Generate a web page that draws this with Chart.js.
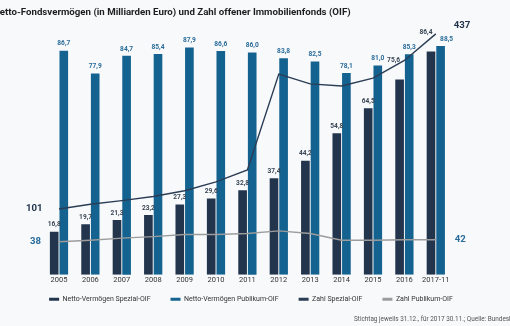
<!DOCTYPE html>
<html>
<head>
<meta charset="utf-8">
<script src="https://cdn.jsdelivr.net/npm/chart.js@4"></script>
<style>
  html, body { margin: 0; padding: 0; background: #f7f9fb; }
  #wrap { position: relative; width: 510px; height: 326px; overflow: hidden; }
  #title { position: absolute; left: -7px; top: 6px; white-space: nowrap;
    font: bold 9.7px Roboto, sans-serif; color: #1e1e1e; }
  #source { position: absolute; left: 354px; top: 315px; white-space: nowrap;
    font: 6.4px Roboto, sans-serif; color: #555; }
  canvas { position: absolute; left: 0; top: 0; }
</style>
</head>
<body>
<div id="wrap">
  <canvas id="oifChart" width="510" height="326"></canvas>
  <div id="title">Netto-Fondsvermögen (in Milliarden Euro) und Zahl offener Immobilienfonds (OIF)</div>
  <div id="source">Stichtag jeweils 31.12., für 2017 30.11.; Quelle: Bundesbank</div>
</div>
<script>
const years = ['2005', '2006', '2007', '2008', '2009', '2010', '2011', '2012', '2013', '2014', '2015', '2016', '2017-11'];
const spezialVermoegen = [16.8, 19.7, 21.3, 23.2, 27.3, 29.6, 32.8, 37.4, 44.2, 54.8, 64.5, 75.6, 86.4];
const publikumVermoegen = [86.7, 77.9, 84.7, 85.4, 87.9, 86.6, 86.0, 83.8, 82.5, 78.1, 81.0, 85.3, 88.5];
const spezialAnzahl = [101, 110, 117, 125, 136, 153, 176, 360, 341, 337, 352, 386, 437];
const publikumAnzahl = [38, 41, 45, 48, 52, 52, 54, 59, 54, 41, 41, 42, 42];

const dark = '#22354d';
const blue = '#14628f';
const grey = '#9c9c9c';

const fmt = (v) => v.toFixed(1).replace('.', ',');

// a few value labels sit off their default spot in the original
const labelNudge = {
  '0-11': [-6, -12],
  '0-12': [-5, -12],
  '1-12': [6, 0]
};

const valueLabels = {
  id: 'valueLabels',
  afterDatasetsDraw(chart) {
    const ctx = chart.ctx;
    ctx.save();
    ctx.textAlign = 'center';
    ctx.textBaseline = 'middle';
    ctx.font = 'bold 6.6px Roboto, sans-serif';
    [0, 1].forEach((di) => {
      const meta = chart.getDatasetMeta(di);
      ctx.fillStyle = di === 0 ? '#3a4654' : '#2a6c9a';
      meta.data.forEach((bar, i) => {
        const n = labelNudge[di + '-' + i] || [0, 0];
        ctx.fillText(fmt(chart.data.datasets[di].data[i]), bar.x + n[0], bar.y - 6.5 + n[1]);
      });
    });
    // start / end values of the two count lines
    ctx.font = 'bold 9.6px Roboto, sans-serif';
    [[2, dark, -16.5, 18, -8], [3, '#2a6c9a', -18, 19, 0]].forEach(([di, col, dxStart, dxEnd, dyEnd]) => {
      const pts = chart.getDatasetMeta(di).data;
      const vals = chart.data.datasets[di].data;
      const first = pts[0], last = pts[pts.length - 1];
      ctx.fillStyle = col;
      ctx.textAlign = 'right';
      ctx.fillText(vals[0], first.x + dxStart, first.y);
      ctx.textAlign = 'left';
      ctx.fillText(vals[vals.length - 1], last.x + dxEnd, last.y + dyEnd);
    });
    ctx.restore();
  }
};

// x tick labels and legend share the strip under the bars
const legendLift = {
  id: 'legendLift',
  afterLayout(chart) {
    chart.legend.top -= 10;
    chart.legend.bottom -= 10;
  }
};

const barStyle = {
  borderColor: 'rgba(255,255,255,0.4)',
  borderWidth: 0.8,
  barThickness: 9.6,
  order: 2
};

const chart = new Chart(document.getElementById('oifChart'), {
  type: 'bar',
  data: {
    labels: years,
    datasets: [{
      label: 'Netto-Vermögen Spezial-OIF',
      data: spezialVermoegen,
      backgroundColor: dark,
      ...barStyle
    }, {
      label: 'Netto-Vermögen Publikum-OIF',
      data: publikumVermoegen,
      backgroundColor: blue,
      ...barStyle
    }, {
      type: 'line',
      label: 'Zahl Spezial-OIF',
      data: spezialAnzahl,
      yAxisID: 'yCount',
      borderColor: '#2b3d55',
      borderWidth: 1.4,
      pointRadius: 0,
      tension: 0,
      order: 1
    }, {
      type: 'line',
      label: 'Zahl Publikum-OIF',
      data: publikumAnzahl,
      yAxisID: 'yCount',
      borderColor: grey,
      borderWidth: 1.4,
      pointRadius: 0,
      tension: 0,
      order: 1
    }]
  },
  options: {
    responsive: false,
    animation: false,
    layout: {
      padding: { top: 30, left: 0, right: 8, bottom: 10.3 }
    },
    scales: {
      x: {
        grid: { display: false, drawTicks: false },
        border: { display: false },
        ticks: {
          padding: 1,
          maxRotation: 0,
          minRotation: 0,
          autoSkip: false,
          color: '#333',
          font: { family: 'Roboto', size: 7.5 }
        }
      },
      y: {
        position: 'left',
        min: 0,
        max: 94.5,
        grid: { display: false },
        border: { display: false },
        ticks: { display: false },
        afterFit(scale) { scale.width = 43.3; }
      },
      yCount: {
        position: 'right',
        min: -25.1,
        max: 444.5,
        grid: { display: false },
        border: { display: false },
        ticks: { display: false },
        afterFit(scale) { scale.width = 50.5; }
      }
    },
    plugins: {
      tooltip: { enabled: false },
      legend: {
        position: 'bottom',
        maxHeight: 30,
        labels: {
          boxWidth: 10,
          boxHeight: 3,
          padding: 20,
          color: '#333',
          font: { family: 'Roboto', size: 7 },
          generateLabels(chart) {
            return chart.data.datasets.map((ds, i) => ({
              text: ds.label,
              fillStyle: ds.type === 'line' ? ds.borderColor : ds.backgroundColor,
              strokeStyle: ds.type === 'line' ? ds.borderColor : ds.backgroundColor,
              lineWidth: 0,
              fontColor: '#333',
              datasetIndex: i
            }));
          }
        }
      }
    }
  },
  plugins: [valueLabels, legendLift]
});
</script>
</body>
</html>
